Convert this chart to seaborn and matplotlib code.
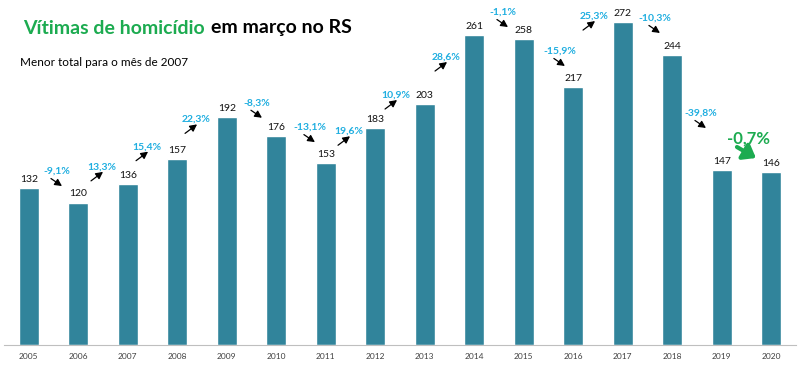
import matplotlib
matplotlib.use("Agg")
import matplotlib.pyplot as plt
import matplotlib.transforms as mtransforms
import seaborn as sns
import pandas as pd
import numpy as np

# ---- data ----
years = ["2005", "2006", "2007", "2008", "2009", "2010", "2011", "2012",
         "2013", "2014", "2015", "2016", "2017", "2018", "2019", "2020"]
victims = [132, 120, 136, 157, 192, 176, 153, 183, 203, 261, 258, 217, 272, 244, 147, 146]
pct_labels = ["-9,1%", "13,3%", "15,4%", "22,3%", "-8,3%", "-13,1%", "19,6%", "10,9%",
              "28,6%", "-1,1%", "-15,9%", "25,3%", "-10,3%", "-39,8%", "-0,7%"]

# ---- layout for change labels (data coords: x index, y value) ----
pct_x = [0.57, 1.48, 2.39, 3.38, 4.61, 5.68, 6.47, 7.42, 8.43, 9.58, 10.73, 11.42, 12.65, 13.58, 14.55]
pct_y = [146.5, 150, 167, 190, 204, 183.5, 180, 210.5, 242.5, 280.4, 247.6, 277, 275.4, 195.4, 174.3]

TEAL = "#31849B"
GREEN = "#1CAB50"
CYAN = "#1FAEE0"

sns.set_theme(style="white")
plt.rcParams["font.family"] = ["Lato", "DejaVu Sans"]

fig = plt.figure(figsize=(8, 3.65), dpi=100)
ax = fig.add_axes([4 / 800, 20 / 365, 792 / 800, 335 / 365])

df = pd.DataFrame({"year": years, "victims": victims})
sns.barplot(data=df, x="year", y="victims", color=TEAL, saturation=1, width=0.4, ax=ax)

ax.set_ylim(0, 335 / 1.1875)
ax.set_xlim(-0.5, len(years) - 0.5)
for s in ["top", "right", "left"]:
    ax.spines[s].set_visible(False)
ax.spines["bottom"].set_color("#BFBFBF")
ax.spines["bottom"].set_linewidth(0.8)
ax.set_yticks([])
ax.set_xlabel("")
ax.set_ylabel("")
ax.tick_params(axis="x", which="major", length=0, labelsize=6, labelcolor="#404040", pad=6)
ax.set_xticks(np.arange(-0.5, len(years)), minor=True)
ax.tick_params(axis="x", which="minor", length=4, color="#BFBFBF", width=0.8, direction="out")

# value labels
for i, v in enumerate(victims):
    ax.annotate(str(v), xy=(i, v), xytext=(0, 4), textcoords="offset pixels",
                ha="center", va="bottom", fontsize=7.5, color="#111111")

# change labels with arrows
for k, lab in enumerate(pct_labels):
    x, y = pct_x[k], pct_y[k]
    last = k == len(pct_labels) - 1
    dec = lab.startswith("-")
    if last:
        ax.text(x, y, lab, ha="center", va="center", fontsize=12, fontweight="bold", color=GREEN)
        tail, head = (-12, -9), (7, -20)
        props = dict(arrowstyle="-|>,head_length=0.6,head_width=0.45", color=GREEN, lw=3.0,
                     shrinkA=0, shrinkB=0)
    else:
        ax.text(x, y, lab, ha="center", va="center", fontsize=7.5, fontweight="bold", color=CYAN)
        if dec:
            tail, head = (-6, -7.5), (5, -15)
        else:
            tail, head = (-11, -14), (1, -5)
        props = dict(arrowstyle="-|>,head_length=0.35,head_width=0.18", color="black", lw=0.9,
                     shrinkA=0, shrinkB=0)
    tr_head = mtransforms.offset_copy(ax.transData, fig=fig, x=head[0], y=head[1], units="dots")
    tr_tail = mtransforms.offset_copy(ax.transData, fig=fig, x=tail[0], y=tail[1], units="dots")
    ax.annotate("", xy=(x, y), xycoords=tr_head, xytext=(x, y), textcoords=tr_tail,
                arrowprops=props, annotation_clip=False)

# title in two colours
t1 = fig.text(23 / 800, 1 - 28 / 365, "Vítimas de homicídio", fontsize=14, fontweight="bold",
              color=GREEN, ha="left", va="center")
fig.canvas.draw()
bb = t1.get_window_extent()
fig.text(bb.x1 / 800 + 6 / 800, 1 - 28 / 365, "em março no RS", fontsize=14, fontweight="bold",
         color="black", ha="left", va="center")
fig.text(20 / 800, 1 - 62 / 365, "Menor total para o mês de 2007", fontsize=8.5,
         color="black", ha="left", va="center")

fig.savefig("out.png", dpi=100)
